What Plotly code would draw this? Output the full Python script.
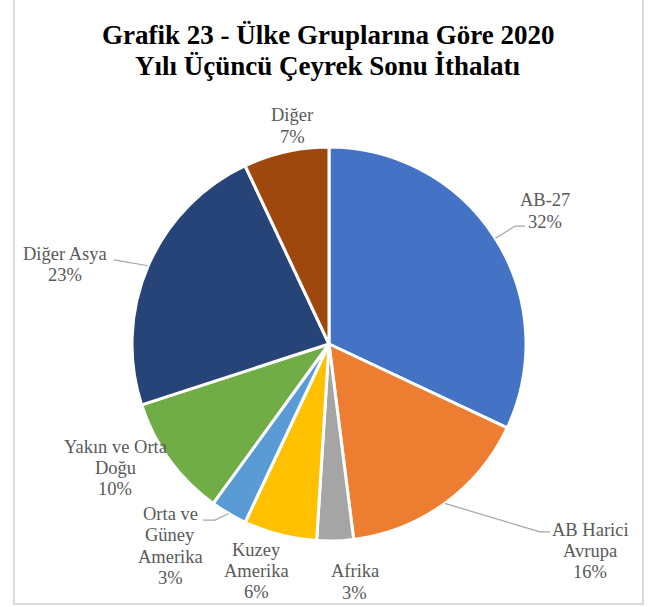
import math
import plotly.graph_objects as go

# ---- data ----
categories = ["AB-27", "AB Harici<br>Avrupa", "Afrika", "Kuzey<br>Amerika",
              "Orta ve<br>Güney<br>Amerika", "Yakın ve Orta<br>Doğu", "Diğer Asya", "Diğer"]
values = [32, 16, 3, 6, 3, 10, 23, 7]
colors = ["#4472C4", "#ED7D31", "#A5A5A5", "#FFC000", "#5B9BD5", "#70AD47", "#264478", "#9E480E"]
title_lines = ["Grafik 23 - Ülke Gruplarına Göre 2020", "Yılı Üçüncü Çeyrek Sonu İthalatı"]

# ---- layout / style ----
W, H = 656, 607
CX, CY, R = 329, 344, 197          # pie centre and radius in px
# label placement: (angle offset deg, radius factor)
label_style = [(0.8, 1.288), (-15.6, 1.691), (-4.4, 1.215), (3.2, 1.209),
               (7.6, 1.305), (5.9, 1.255), (-6.7, 1.399), (3.0, 1.122)]
# leader lines: None or (elbow dx, dy, end dx, dy) relative to label centre
leader_style = [(-30, 15, -20, 15), (-50, -19, -40, -19), None, None,
                (45, -26, 33, -26), None, (49, -5, 49, -5), None]
FONT = "Liberation Serif"
TXT = "#595959"
LABEL_SIZE = 18.5
LINE_H = 21.3
title_y = [35, 66]


def px(x):
    return x / W


def py(y):
    return 1 - y / H


fig = go.Figure(go.Pie(
    labels=categories, values=values, sort=False, direction="clockwise", rotation=0,
    marker=dict(colors=colors, line=dict(color="white", width=3)),
    textinfo="none", hoverinfo="label+percent", showlegend=False,
    domain=dict(x=[px(CX - R), px(CX + R)], y=[py(CY + R), py(CY - R)]),
))

total = sum(values)
cum = 0
annotations = []
shapes = []
for i, (lab, v) in enumerate(zip(categories, values)):
    mid = (cum + v / 2) / total * 360
    cum += v
    da, f = label_style[i]
    ang = math.radians(mid + da)
    lx = CX + R * f * math.sin(ang)
    ly = CY - R * f * math.cos(ang)
    pct = round(v / total * 100)
    lines = lab.split("<br>") + [f"{pct}%"]
    n = len(lines)
    for j, ln in enumerate(lines):
        yy = ly + (j - (n - 1) / 2) * LINE_H
        annotations.append(dict(
            x=px(lx), y=py(yy), xref="paper", yref="paper", showarrow=False,
            text=ln, xanchor="center", yanchor="middle", align="center",
            font=dict(family=FONT, size=LABEL_SIZE, color=TXT)))
    ls = leader_style[i]
    if ls:
        m = math.radians(mid)
        sx = CX + R * math.sin(m)
        sy = CY - R * math.cos(m)
        ex, ey = lx + ls[0], ly + ls[1]
        fx, fy = lx + ls[2], ly + ls[3]
        path = f"M {px(sx)},{py(sy)} L {px(ex)},{py(ey)} L {px(fx)},{py(fy)}"
        shapes.append(dict(type="path", path=path, xref="paper", yref="paper",
                           line=dict(color="#A6A6A6", width=1.2)))

# chart frame
shapes.append(dict(type="rect", xref="paper", yref="paper",
                   x0=px(14), x1=px(643), y0=py(604), y1=1.05,
                   line=dict(color="#D9D9D9", width=2)))

for t, ty in zip(title_lines, title_y):
    annotations.append(dict(
        x=0.5, y=py(ty), xref="paper", yref="paper", showarrow=False,
        text=f"<b>{t}</b>", xanchor="center", yanchor="middle", align="center",
        font=dict(family=FONT, size=27, color="#000000")))

fig.update_layout(
    width=W, height=H, margin=dict(l=0, r=0, t=0, b=0),
    paper_bgcolor="white", plot_bgcolor="white",
    annotations=annotations, shapes=shapes,
)

fig.write_html("out.html", config={"displayModeBar": False},
               post_script="document.body.style.margin='0';")
